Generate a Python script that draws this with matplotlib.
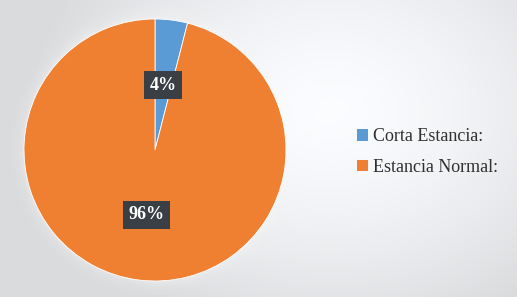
import numpy as np
import matplotlib.pyplot as plt
from matplotlib.patches import Patch

categories = ['Corta Estancia:', 'Estancia Normal:']
values = [4, 96]
colors = ['#5b9bd5', '#ef7f31']

W, H = 517, 297


def main():
    fig = plt.figure(figsize=(W / 100, H / 100), dpi=100)

    # background: light grey with a soft white glow
    bg = fig.add_axes([0, 0, 1, 1])
    yy, xx = np.mgrid[0:H, 0:W]
    d = np.sqrt(((xx - 330) / 300) ** 2 + ((yy - 110) / 230) ** 2)
    shade = 1 - 0.13 * np.clip(d, 0, 1) ** 1.5
    bg.imshow(np.dstack([shade * 0.985, shade * 0.99, shade]), aspect='auto',
              extent=[0, W, H, 0])
    bg.axis('off')

    cx, cy, r = 155, 150, 131
    ax = fig.add_axes([0, 0, 1, 1])
    # faint halo behind the pie
    for k, a in zip([1.10, 1.07, 1.04, 1.02], [0.05, 0.07, 0.09, 0.12]):
        ax.add_patch(plt.Circle((0, 0), k, color='white', alpha=a, lw=0))
    wedges, texts, autotexts = ax.pie(
        values, colors=colors, startangle=90, counterclock=False,
        autopct='%1.0f%%', pctdistance=0.5, radius=1,
        wedgeprops=dict(linewidth=0.6, edgecolor='white'),
        textprops=dict(color='white', fontsize=13, fontweight='bold',
                       family='Liberation Serif'))
    for t in autotexts:
        t.set_bbox(dict(boxstyle='square,pad=0.3', fc='#3a3f45', ec='none'))
    ax.set_xlim(-1.12, 1.12)
    ax.set_ylim(-1.12, 1.12)
    ax.set_position([(cx - r * 1.12) / W, (H - cy - r * 1.12) / H,
                     2 * r * 1.12 / W, 2 * r * 1.12 / H])
    ax.set_aspect('equal')
    ax.axis('off')

    handles = [Patch(facecolor=c, edgecolor='none') for c in colors]
    fig.legend(handles, categories, loc='center left',
               bbox_to_anchor=(341 / W, 1 - 152 / H), frameon=False,
               prop=dict(family='Liberation Serif', size=13),
               handlelength=0.6, handleheight=0.6, handletextpad=0.25,
               labelspacing=0.75, labelcolor='#303030')

    fig.savefig('out.png', dpi=100)


if __name__ == '__main__':
    main()
